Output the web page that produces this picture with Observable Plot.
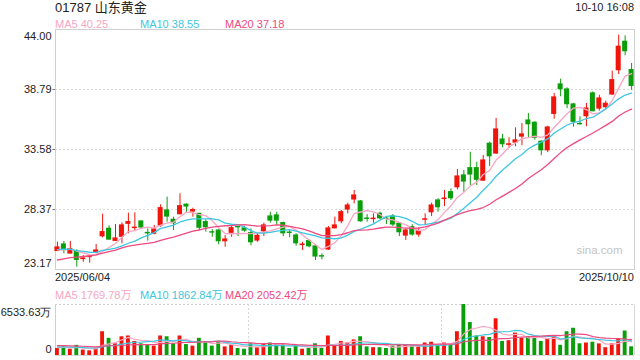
<!DOCTYPE html>
<html><head><meta charset="utf-8">
<script src="https://cdn.jsdelivr.net/npm/d3@7"></script>
<script src="https://cdn.jsdelivr.net/npm/@observablehq/plot@0.6"></script>
<style>
body{margin:0;background:#fff;}
#wrap{position:relative;width:640px;height:360px;overflow:hidden;font-family:"Liberation Sans",Arial,"Noto Sans CJK SC",sans-serif;color:#222;}
.t{position:absolute;white-space:nowrap;line-height:1;}
#wrap svg{position:absolute;left:0;overflow:visible;}
</style></head><body><div id="wrap"></div>
<script>
const stockName = "01787 山东黄金";
const stamp = "10-10 16:08";
const dateLabels = ["2025/06/04", "2025/10/10"];
const maPeriods = [5, 10, 20];
const maPriceLast = ["40.25", "38.55", "37.18"];
const maVolLast = ["1769.78万", "1862.84万", "2052.42万"];
const priceTicks = [23.17, 28.37, 33.58, 38.79, 44.00];
const volTicks = [0, 6533.63];
const volTickLabels = ["0", "6533.63万"];

const opens = [24.79,25.34,24.56,24.73,24.08,24.25,24.62,26.06,26.70,25.66,
26.01,27.14,26.77,27.34,26.34,26.27,26.99,28.29,27.48,27.97,
28.79,28.20,28.00,27.28,26.40,26.55,25.63,26.36,26.86,26.73,
26.32,25.69,26.49,27.77,27.86,27.19,26.37,26.12,25.30,25.63,
25.17,24.32,24.91,26.75,27.36,28.38,29.25,29.07,27.59,27.55,
28.00,27.58,27.77,27.14,26.12,26.84,26.21,27.49,28.14,29.16,
29.29,29.88,30.31,31.33,31.96,31.96,30.89,34.08,33.24,34.45,
34.00,34.19,34.71,36.10,35.90,34.25,33.52,36.68,39.23,38.79,
37.49,35.80,36.48,38.45,37.14,37.26,38.36,40.47,42.93,40.47];
const closes = [25.08,24.93,24.93,24.01,24.12,24.29,24.82,26.41,25.77,25.86,
26.99,27.28,26.80,26.82,26.31,26.64,28.49,27.77,27.19,28.66,
28.64,28.32,26.80,26.84,26.38,25.63,25.77,26.75,26.84,26.55,
25.54,26.09,26.99,27.42,27.42,26.32,26.35,25.45,25.33,25.19,
24.30,24.30,26.73,26.99,28.14,28.72,29.59,27.36,27.57,27.58,
27.62,27.56,27.08,26.41,26.55,26.21,26.49,27.52,28.72,28.58,
29.32,29.36,31.24,30.81,31.42,30.96,32.63,33.00,35.32,34.05,
34.03,34.37,34.89,35.78,34.60,33.52,35.49,38.10,38.82,37.52,
35.99,35.78,37.14,36.91,38.01,37.55,39.60,42.50,42.12,39.11];
const highs = [25.54,25.60,25.60,24.88,24.38,24.38,25.34,27.97,26.96,27.08,
27.22,28.06,28.09,27.34,26.70,26.99,28.79,29.45,27.71,29.74,
28.87,28.49,28.00,27.48,26.62,26.62,26.12,26.90,26.90,26.90,
26.70,26.27,27.19,28.14,28.14,27.28,26.55,26.27,25.54,25.75,
25.25,24.53,26.90,27.71,28.29,28.92,30.03,29.16,27.94,28.00,
28.14,27.77,27.94,27.19,26.70,27.05,26.79,28.00,28.92,29.31,
30.03,30.17,31.85,31.76,33.35,32.48,33.06,34.22,36.28,34.89,
34.60,35.47,35.84,36.71,35.99,34.34,35.61,38.45,39.69,38.94,
37.58,36.42,37.58,38.59,38.30,37.78,40.38,43.51,43.45,41.05];
const lows = [24.73,24.53,24.53,23.37,23.80,23.72,24.53,25.92,25.71,25.60,
25.40,26.27,26.47,26.70,25.63,26.18,26.84,27.28,26.55,27.92,
28.06,27.71,26.55,26.41,25.97,25.31,25.11,25.97,26.03,26.41,
25.23,25.54,26.03,27.19,26.99,26.03,25.92,25.19,24.82,25.05,
23.95,24.01,24.82,26.70,27.14,28.00,28.87,27.28,27.28,27.19,
27.48,27.08,26.90,26.03,25.69,26.06,25.97,26.99,27.77,28.14,
28.64,29.16,30.09,29.88,30.46,30.46,30.81,32.11,33.15,33.73,
33.67,33.82,33.91,34.60,34.39,33.04,33.32,36.21,38.16,37.14,
35.52,35.69,35.56,36.86,36.91,37.14,38.30,40.09,41.72,38.73];
// volume, 万 shares
const volumes = [900,1100,800,1300,700,600,900,3045,2200,1500,
2400,2500,1800,1500,1400,1200,2500,2400,1500,2500,
1400,1200,2200,1600,1200,1800,1100,1300,900,800,
1500,1000,1400,1600,1500,1400,900,1300,800,900,
1500,900,2500,1300,1800,1600,2000,2400,1100,1000,
1000,900,1200,1400,1300,1200,1100,1600,1700,1400,
1600,1300,3045,6533.63,4220,2500,2400,2300,4704,1800,
1900,2875,2200,2400,2300,1800,2100,2500,1300,3045,
3490,1500,1600,1700,1489,1000,1500,2100,3136,1113];
// sessions before 2025/06/04 (only feed the moving averages)
const preCloses = [22.9,22.8,23.0,23.2,23.1,23.3,23.3,23.1,23.2,23.0,24.6,25.0,25.1,24.9,25.0,24.9,24.7,24.8,24.9];
const preVolumes = [1500,1300,1700,1200,1400,1600,1100,1300,1500,1800,1200,1000,1400,1300,1100,900,1200,1000,1100];

const RED = "#f0140a", GREEN = "#0a9e0a";
const maColors = ["#f7a6c3", "#3ec6e0", "#ee4a80"];
const N = closes.length;
const rows = d3.range(N).map(i => ({i, open: opens[i], close: closes[i], high: highs[i], low: lows[i], vol: volumes[i], up: closes[i] >= opens[i]}));
function movingAvg(pre, series, k) {
  const all = pre.concat(series);
  return series.map((_, i) => d3.mean(all.slice(pre.length + i - k + 1, pre.length + i + 1)));
}
const priceMA = maPeriods.map(k => movingAvg(preCloses, closes, k));
const volMA = maPeriods.map(k => movingAvg(preVolumes, volumes, k));

const xDomain = [-0.3, N - 0.55];
const col = d => d.up ? RED : GREEN;
const wrap = document.getElementById("wrap");
const font = 11;

// price panel
const price = Plot.plot({
  width: 640, height: 270, marginTop: 29, marginBottom: 1, marginLeft: 55, marginRight: 6,
  style: {fontFamily: '"Liberation Sans",Arial,sans-serif', fontSize: font + "px", background: "transparent"},
  x: {type: "linear", domain: xDomain, axis: null},
  y: {domain: [priceTicks[0], priceTicks[priceTicks.length - 1]], axis: null},
  marks: [
    Plot.ruleY(priceTicks.slice(1, -1), {stroke: "#d8d8d8", strokeDasharray: "2,2"}),
    Plot.ruleY(priceTicks.slice(1, -1), {x1: xDomain[0] - 0.4, x2: xDomain[0], stroke: "#777"}),
    Plot.frame({stroke: "#d0d0d0"}),
    Plot.text(["sina.com"], {frameAnchor: "bottom-right", dx: -12, dy: -16, fill: "#c4c4c4", fontSize: 11.5}),
    Plot.ruleX(rows, {x: "i", y1: "low", y2: "high", stroke: col, strokeWidth: 1}),
    Plot.rect(rows, {x1: d => d.i - 0.39, x2: d => d.i + 0.39, y1: "open", y2: "close", fill: col, insetTop: -0.6, insetBottom: -0.6}),
    ...priceMA.map((m, j) => Plot.line(m, {x: (d, i) => i, y: d => d, stroke: maColors[j], strokeWidth: 1.3, curve: "linear"})),
    Plot.text(priceTicks.slice(1, -1), {y: d => d, text: d => d.toFixed(2), frameAnchor: "left", dx: -4, textAnchor: "end", fill: "#222"}),
    Plot.text([priceTicks[priceTicks.length - 1]], {y: d => d, text: d => d.toFixed(2), frameAnchor: "left", dx: -4, dy: 7, textAnchor: "end", fill: "#222"}),
    Plot.text([priceTicks[0]], {y: d => d, text: d => d.toFixed(2), frameAnchor: "left", dx: -4, dy: -6, textAnchor: "end", fill: "#222"})
  ]
});
price.style.top = "0px";
wrap.appendChild(price);

// volume panel
const vol = Plot.plot({
  width: 640, height: 60, marginTop: 4, marginBottom: 5, marginLeft: 55, marginRight: 6,
  style: {fontFamily: '"Liberation Sans",Arial,sans-serif', fontSize: font + "px", background: "transparent"},
  x: {type: "linear", domain: xDomain, axis: null},
  y: {domain: [volTicks[0], volTicks[1]], axis: null},
  marks: [
    Plot.ruleY([volTicks[1]], {stroke: "#d0d0d0", strokeDasharray: "2,2"}),
    Plot.ruleY([volTicks[0]], {stroke: "#d8d8d8"}),
    Plot.ruleX([xDomain[0] + (xDomain[1] - xDomain[0]) / 3, xDomain[0] + 2 * (xDomain[1] - xDomain[0]) / 3], {stroke: "#d8d8d8", strokeDasharray: "2,2"}),
    Plot.ruleX([xDomain[0]], {stroke: "#d0d0d0"}),
    Plot.ruleX([xDomain[1]], {stroke: "#d8d8d8"}),
    Plot.rect(rows, {x1: d => d.i - 0.3, x2: d => d.i + 0.3, y1: 0, y2: "vol", fill: col}),
    ...volMA.map((m, j) => Plot.line(m, {x: (d, i) => i, y: d => d, stroke: maColors[j], strokeWidth: 1.2})),
    Plot.text([volTicks[1]], {y: d => d, text: [volTickLabels[1]], frameAnchor: "left", dx: -4, dy: 8, textAnchor: "end", fill: "#222"}),
    Plot.text([volTicks[0]], {y: d => d, text: [volTickLabels[0]], frameAnchor: "left", dx: -4, dy: -6, textAnchor: "end", fill: "#222"})
  ]
});
vol.style.top = "300px";
wrap.appendChild(vol);

function label(text, x, cy, size, color, anchorRight) {
  const el = document.createElement("div");
  el.className = "t";
  el.textContent = text;
  el.style.fontSize = size + "px";
  el.style.color = color;
  el.style.top = (cy - size * 0.49) + "px";
  if (anchorRight) el.style.right = (640 - x) + "px"; else el.style.left = x + "px";
  wrap.appendChild(el);
}
label(stockName, 55, 7.5, 13, "#222");
label(stamp, 634, 7.5, 11, "#222", true);
const legendX = [55, 140, 225];
maPeriods.forEach((k, j) => label("MA" + k + " " + maPriceLast[j], legendX[j], 24, 11, maColors[j]));
label(dateLabels[0], 55, 277.5, 11, "#222");
label(dateLabels[1], 634, 277.5, 11, "#222", true);
maPeriods.forEach((k, j) => label("MA" + k + " " + maVolLast[j], legendX[j], 295, 11, maColors[j]));
</script></body></html>
